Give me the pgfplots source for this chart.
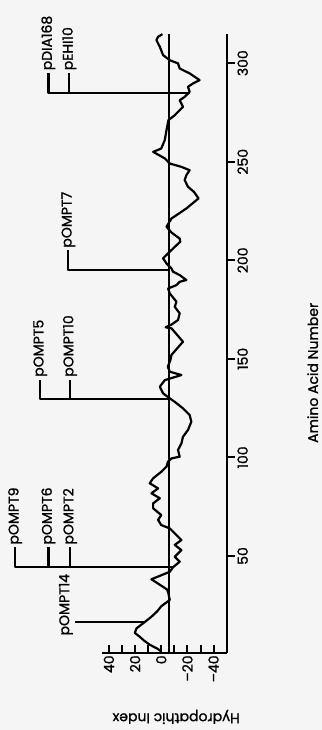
\documentclass[border=0pt]{standalone}
\usepackage{pgfplots}
\pgfplotsset{compat=1.18}
\usepackage{fontspec}
\setmainfont{Poppins}[FakeBold=1.2]
\pgfplotstableread{
r v
1.5 0
3 3
5 8.8
7 13
9 16.4
11 20.2
13.3 18.9
16.5 12.6
19.2 7.5
22 3
24.5 0
27.7 -6.5
31 -5.5
33 -4.5
38.2 7.5
42 -6.5
44.3 -9
47.1 -14.1
49.6 -10.3
53 -15.4
55.6 -10.3
58.1 -15.4
60.6 -11.6
64 -6.5
65.7 0
68.3 2.4
70.8 0
74.2 6.2
76.7 6.2
79.3 1.1
81.8 7.5
84.3 2.4
86.9 8.8
89.4 6.2
92.7 0
95.3 -4
97.8 -5.1
99.5 -7.8
100.4 -14.1
103.8 -12.8
107.1 -15.4
110.5 -16.6
113.9 -20.4
118.1 -23
121.5 -21.7
124.9 -16.6
128.2 -10.3
130 -6.5
132.5 -1.4
135.9 1.1
139.2 -2.7
141.8 -15.4
143.5 -6.5
146 -5
149.4 -7
152 -7.8
158.7 -16.6
165.5 -7.8
166 -3.4
167.4 -7.8
169.7 -12.8
173.1 -14.1
176.4 -10.3
179 -11.6
183.2 -6.5
185.7 -5.2
187.4 -11.6
189.1 -14.1
190 -19.2
192.5 -14.1
194.2 -9
195.9 -7.8
198.4 -4
201 -1.4
203.5 -5.2
206.8 -10.3
209.4 -14.5
211 -14.1
214 -8
217 -4
221.2 -7.8
226.3 -19.2
231.4 -28.5
234.7 -25
237.3 -20.4
240.7 -17.9
243.2 -19.2
245.7 -21.7
247.4 -15.4
249.1 -6.5
251.7 -2.7
255 6.2
256.7 0
261 -2.7
266 -4
271.1 -5.5
273.6 -10.3
277.8 -16.6
281.2 -14.1
282.9 -17.9
285.5 -21.7
288 -20.4
289.7 -24.2
291.4 -29.3
294.8 -21.7
297.3 -14.1
299.9 -12.8
301.5 -6.5
304.1 -1.4
308.3 1.1
311.7 3.7
313.4 2.4
314.7 -0.9
}\hydro
\begin{document}
\rotatebox{90}{%
\begin{tikzpicture}
\fill[black!4] (-38.7pt,-47.65pt) rectangle (326.3pt,113.35pt);
\begin{axis}[
  scale only axis, width=309.5pt, height=62.5pt,
  xmin=1, xmax=315, ymin=-50, ymax=45.5,
  axis lines=left, axis line style={-, line width=1.1pt},
  clip=false,
  xtick={50,100,...,300}, xtick align=outside,
  ytick={-40,-20,0,20,40}, yticklabels={\textendash40,\textendash20,0,20,40},
  minor ytick={-30,-10,10,30}, ytick align=inside,
  major tick length=4pt, minor tick length=4pt,
  every tick/.style={black, line width=1pt},
  /pgf/number format/assume math mode=true,
  tick label style={font=\fontsize{7}{8}\selectfont},
  label style={font=\fontsize{7}{8}\selectfont},
  xlabel={Amino Acid Number},
  xlabel style={at={(axis description cs:0.452,-0.688)}, anchor=center},
  ylabel={Hydropathic Index},
  ylabel style={at={(axis description cs:-0.104,0.404)}, anchor=center},
  every axis plot/.append style={black, line width=1.1pt, line join=round},
  nodes={font=\fontsize{7}{8}\selectfont, inner sep=1.2pt}
]
\addplot[no marks] table[x=r, y=v] {\hydro};
\addplot[no marks] coordinates {(1,-6) (315,-6)};
% pOMPT14
\addplot[no marks] coordinates {(16.5,12.6) (16.5,65.9)};
\node[anchor=south west, inner sep=0.5pt] at (axis cs:9,66.5) {pOMPT14};
% pOMPT9/6/2
\addplot[no marks] coordinates {(44.4,-9) (44.4,111.6) (54.4,111.6)};
\addplot[no marks] coordinates {(44.4,86.2) (54.4,86.2)};
\addplot[no marks] coordinates {(44.4,69.7) (54.4,69.7)};
\node[anchor=west] at (axis cs:54.4,111.6) {pOMPT9};
\node[anchor=west] at (axis cs:54.4,86.2) {pOMPT6};
\node[anchor=west] at (axis cs:54.4,69.7) {pOMPT2};
% pOMPT5/10
\addplot[no marks] coordinates {(129.5,-6.5) (129.5,92.5) (139.5,92.5)};
\addplot[no marks] coordinates {(129.5,69.7) (139.5,69.7)};
\node[anchor=west] at (axis cs:139.5,92.5) {pOMPT5};
\node[anchor=west] at (axis cs:139.5,69.7) {pOMPT10};
% pOMPT7
\addplot[no marks] coordinates {(195,-7) (195,71) (205,71)};
\node[anchor=west] at (axis cs:205,71) {pOMPT7};
% pDIA168 / pEHI10
\addplot[no marks] coordinates {(285,-21.7) (285,86.2) (295,86.2)};
\addplot[no marks] coordinates {(285,70.2) (295,70.2)};
\node[anchor=west] at (axis cs:295,86.2) {pDIA168};
\node[anchor=west] at (axis cs:295,70.2) {pEHI10};
\end{axis}
\pgfresetboundingbox
\path (-38.7pt,-47.65pt) rectangle (326.3pt,113.35pt);
\end{tikzpicture}%
}
\end{document}
